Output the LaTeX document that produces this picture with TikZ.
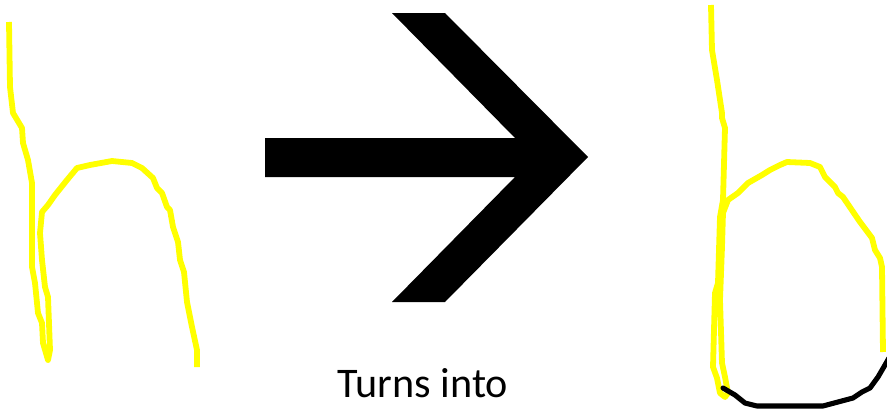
\documentclass[tikz,border=0pt]{standalone}
\usepackage{fontspec}
\setmainfont{Carlito}
\usepackage{tikz}
\usetikzlibrary{positioning}
\definecolor{inkyellow}{HTML}{FFFF00}
\definecolor{inkblack}{HTML}{000000}

\begin{document}
\begin{tikzpicture}[
    x=0.02cm, y=-0.02cm,
    stroke/.style={draw=inkyellow, line width=3.3pt, line join=round},
    closing/.style={draw=inkblack, line width=2.9pt, line join=round, line cap=round},
    bigarrow/.style={fill=inkblack, draw=none},
    caption/.style={font=\fontsize{24}{28}\selectfont, inner sep=0pt},
]
\useasboundingbox (0,0) rectangle (887,409);

% Letter h
\draw[stroke] (9,22) -- (10,87) -- (13,113) -- (22,128) -- (23,143) -- (28,160)
  -- (32,183) -- (32,267) -- (35,283) -- (38,313) -- (42,323) -- (43,343)
  -- (48,360) -- (50,350) -- (48,297) -- (45,287) -- (42,260) -- (40,233)
  -- (42,212) -- (48,205) -- (55,195) -- (67,180) -- (77,168) -- (90,165)
  -- (112,161) -- (132,163) -- (142,168) -- (153,178) -- (157,188) -- (162,193)
  -- (167,207) -- (170,210) -- (173,227) -- (178,242) -- (180,260) -- (184,272)
  -- (187,302) -- (192,327) -- (197,350) -- (197,367);

% Arrow
\fill[bigarrow] (265,138) -- (515,138) -- (392,13) -- (445,13) -- (588,157)
  -- (445,302) -- (392,302) -- (515,177) -- (265,177) -- cycle;
\node[caption] (turns) at (423,383) {Turns into};

% Letter b
\draw[stroke] (711,5) -- (712,50) -- (717,80) -- (722,113) -- (722,118) -- (725,128)
  -- (723,200) -- (720,217) -- (718,283) -- (715,293) -- (713,367) -- (717,378)
  -- (720,393) -- (725,397) -- (728,393) -- (725,377) -- (722,363) -- (720,300)
  -- (722,247) -- (723,213) -- (728,200) -- (738,193) -- (748,183) -- (762,175)
  -- (770,170) -- (780,165) -- (787,162) -- (810,163) -- (820,167) -- (825,177)
  -- (835,187) -- (838,193) -- (843,197) -- (860,222) -- (872,238) -- (875,250)
  -- (880,258) -- (882,267) -- (883,352);
\draw[closing] (723,388) -- (735,395) -- (745,403) -- (757,406) -- (823,406)
  -- (838,402) -- (853,398) -- (862,392) -- (870,388) -- (878,377) -- (885,365)
  -- (889,358);

\end{tikzpicture}
\end{document}
